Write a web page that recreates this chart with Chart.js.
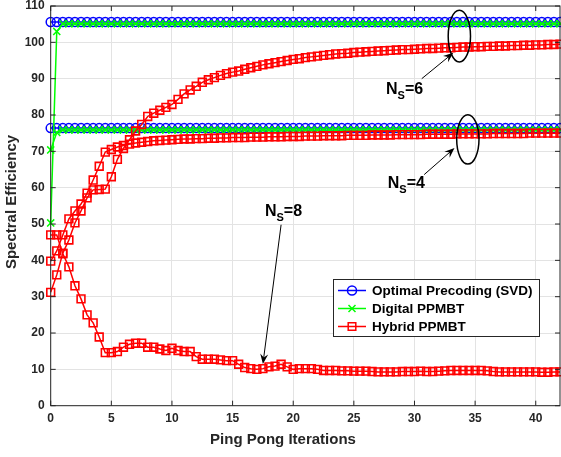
<!DOCTYPE html>
<html>
<head>
<meta charset="utf-8">
<script src="https://cdn.jsdelivr.net/npm/chart.js@4"></script>
<style>
html, body { margin: 0; padding: 0; background: #fff; }
canvas { display: block; }
</style>
</head>
<body>
<canvas id="grafico" width="561" height="457"></canvas>
<script>
// iteraciones (medio paso)
const iteraciones = [
    0, 0.5, 1, 1.5, 2, 2.5, 3, 3.5, 4, 4.5,
    5, 5.5, 6, 6.5, 7, 7.5, 8, 8.5, 9, 9.5,
    10, 10.5, 11, 11.5, 12, 12.5, 13, 13.5, 14, 14.5,
    15, 15.5, 16, 16.5, 17, 17.5, 18, 18.5, 19, 19.5,
    20, 20.5, 21, 21.5, 22, 22.5, 23, 23.5, 24, 24.5,
    25, 25.5, 26, 26.5, 27, 27.5, 28, 28.5, 29, 29.5,
    30, 30.5, 31, 31.5, 32, 32.5, 33, 33.5, 34, 34.5,
    35, 35.5, 36, 36.5, 37, 37.5, 38, 38.5, 39, 39.5,
    40, 40.5, 41, 41.5, 42
];

const ticksX = [0, 5, 10, 15, 20, 25, 30, 35, 40];
const ticksY = [0, 10, 20, 30, 40, 50, 60, 70, 80, 90, 100, 110];

// Optimal Precoding (SVD)
const optimoNs6 = [
    105.6, 105.6, 105.6, 105.6, 105.6, 105.6, 105.6, 105.6, 105.6, 105.6,
    105.6, 105.6, 105.6, 105.6, 105.6, 105.6, 105.6, 105.6, 105.6, 105.6,
    105.6, 105.6, 105.6, 105.6, 105.6, 105.6, 105.6, 105.6, 105.6, 105.6,
    105.6, 105.6, 105.6, 105.6, 105.6, 105.6, 105.6, 105.6, 105.6, 105.6,
    105.6, 105.6, 105.6, 105.6, 105.6, 105.6, 105.6, 105.6, 105.6, 105.6,
    105.6, 105.6, 105.6, 105.6, 105.6, 105.6, 105.6, 105.6, 105.6, 105.6,
    105.6, 105.6, 105.6, 105.6, 105.6, 105.6, 105.6, 105.6, 105.6, 105.6,
    105.6, 105.6, 105.6, 105.6, 105.6, 105.6, 105.6, 105.6, 105.6, 105.6,
    105.6, 105.6, 105.6, 105.6, 105.6
];
const optimoNs4 = [
    76.4, 76.4, 76.4, 76.4, 76.4, 76.4, 76.4, 76.4, 76.4, 76.4,
    76.4, 76.4, 76.4, 76.4, 76.4, 76.4, 76.4, 76.4, 76.4, 76.4,
    76.4, 76.4, 76.4, 76.4, 76.4, 76.4, 76.4, 76.4, 76.4, 76.4,
    76.4, 76.4, 76.4, 76.4, 76.4, 76.4, 76.4, 76.4, 76.4, 76.4,
    76.4, 76.4, 76.4, 76.4, 76.4, 76.4, 76.4, 76.4, 76.4, 76.4,
    76.4, 76.4, 76.4, 76.4, 76.4, 76.4, 76.4, 76.4, 76.4, 76.4,
    76.4, 76.4, 76.4, 76.4, 76.4, 76.4, 76.4, 76.4, 76.4, 76.4,
    76.4, 76.4, 76.4, 76.4, 76.4, 76.4, 76.4, 76.4, 76.4, 76.4,
    76.4, 76.4, 76.4, 76.4, 76.4
];

// Digital PPMBT
const digitalNs6 = [
    50.3, 103.0, 105.1, 105.1, 105.1, 105.1, 105.1, 105.1, 105.1, 105.1,
    105.1, 105.1, 105.1, 105.1, 105.1, 105.1, 105.1, 105.1, 105.1, 105.1,
    105.1, 105.1, 105.1, 105.1, 105.1, 105.1, 105.1, 105.1, 105.1, 105.1,
    105.1, 105.1, 105.1, 105.1, 105.1, 105.1, 105.1, 105.1, 105.1, 105.1,
    105.1, 105.1, 105.1, 105.1, 105.1, 105.1, 105.1, 105.1, 105.1, 105.1,
    105.1, 105.1, 105.1, 105.1, 105.1, 105.1, 105.1, 105.1, 105.1, 105.1,
    105.1, 105.1, 105.1, 105.1, 105.1, 105.1, 105.1, 105.1, 105.1, 105.1,
    105.1, 105.1, 105.1, 105.1, 105.1, 105.1, 105.1, 105.1, 105.1, 105.1,
    105.1, 105.1, 105.1, 105.1, 105.1
];
const digitalNs4 = [
    70.4, 75.2, 75.9, 75.9, 75.9, 75.9, 75.9, 75.9, 75.9, 75.9,
    75.9, 75.9, 75.9, 75.9, 75.9, 75.9, 75.9, 75.9, 75.9, 75.9,
    75.9, 75.9, 75.9, 75.9, 75.9, 75.9, 75.9, 75.9, 75.9, 75.9,
    75.9, 75.9, 75.9, 75.9, 75.9, 75.9, 75.9, 75.9, 75.9, 75.9,
    75.9, 75.9, 75.9, 75.9, 75.9, 75.9, 75.9, 75.9, 75.9, 75.9,
    75.9, 75.9, 75.9, 75.9, 75.9, 75.9, 75.9, 75.9, 75.9, 75.9,
    75.9, 75.9, 75.9, 75.9, 75.9, 75.9, 75.9, 75.9, 75.9, 75.9,
    75.9, 75.9, 75.9, 75.9, 75.9, 75.9, 75.9, 75.9, 75.9, 75.9,
    75.9, 75.9, 75.9, 75.9, 75.9
];

// Hybrid PPMBT
const hibridoNs6 = [
    31.2, 36.0, 42.0, 45.6, 50.3, 53.6, 57.2, 59.4, 59.5, 59.6,
    63.0, 67.8, 70.8, 73.2, 75.6, 77.4, 79.6, 80.5, 81.3, 82.1,
    82.9, 84.3, 85.8, 86.9, 87.9, 89.0, 89.7, 90.3, 90.9, 91.4,
    91.8, 92.1, 92.6, 93.0, 93.4, 93.8, 94.1, 94.4, 94.7, 95.0,
    95.3, 95.5, 95.8, 96.0, 96.2, 96.4, 96.6, 96.8, 96.9, 97.0,
    97.2, 97.3, 97.4, 97.5, 97.6, 97.7, 97.8, 97.9, 98.0, 98.0,
    98.1, 98.2, 98.3, 98.3, 98.4, 98.5, 98.5, 98.6, 98.7, 98.7,
    98.8, 98.8, 98.9, 98.9, 99.0, 99.0, 99.1, 99.1, 99.2, 99.2,
    99.3, 99.3, 99.4, 99.4, 99.5
];
const hibridoNs4 = [
    39.8, 42.6, 47.0, 51.4, 53.6, 55.5, 58.5, 62.1, 65.9, 69.8,
    70.5, 71.2, 71.6, 72.0, 72.3, 72.5, 72.7, 72.9, 73.0, 73.1,
    73.2, 73.3, 73.4, 73.4, 73.5, 73.5, 73.6, 73.6, 73.7, 73.7,
    73.8, 73.8, 73.8, 73.9, 73.9, 73.9, 74.0, 74.0, 74.0, 74.1,
    74.1, 74.1, 74.2, 74.2, 74.2, 74.3, 74.3, 74.3, 74.3, 74.4,
    74.4, 74.4, 74.4, 74.5, 74.5, 74.5, 74.5, 74.6, 74.6, 74.6,
    74.6, 74.6, 74.7, 74.7, 74.7, 74.7, 74.7, 74.8, 74.8, 74.8,
    74.8, 74.8, 74.8, 74.9, 74.9, 74.9, 74.9, 74.9, 74.9, 75.0,
    75.0, 75.0, 75.0, 75.0, 75.0
];
const hibridoNs8 = [
    47.0, 47.0, 41.8, 38.2, 33.0, 29.4, 25.0, 22.8, 18.9, 14.6,
    14.6, 14.9, 16.1, 16.9, 17.2, 17.2, 16.1, 16.1, 15.6, 15.2,
    15.8, 15.2, 14.9, 14.9, 13.5, 12.8, 12.8, 12.8, 12.6, 12.4,
    12.4, 11.4, 10.5, 10.2, 10.0, 10.2, 10.7, 10.9, 11.4, 10.7,
    10.0, 10.2, 10.2, 10.2, 10.0, 9.7, 9.7, 9.7, 9.6, 9.6,
    9.5, 9.5, 9.5, 9.4, 9.3, 9.3, 9.3, 9.3, 9.4, 9.4,
    9.4, 9.5, 9.4, 9.4, 9.5, 9.6, 9.7, 9.7, 9.7, 9.7,
    9.7, 9.7, 9.6, 9.4, 9.3, 9.3, 9.3, 9.3, 9.3, 9.3,
    9.3, 9.2, 9.2, 9.3, 9.3
];

const AZUL = '#0000ff';
const VERDE = '#00ff00';
const ROJO = '#ff0000';
const EJE = '#262626';
const FUENTE = '"Liberation Sans", Arial, sans-serif';

function puntos(serie) {
    return iteraciones.map((x, i) => ({ x: x, y: serie[i] }));
}

function serieOptima(serie) {
    return {
        data: puntos(serie), borderColor: AZUL, borderWidth: 1.5, clip: false,
        pointStyle: 'circle', pointRadius: 4.5, pointBorderWidth: 1.5,
        pointBorderColor: AZUL, pointBackgroundColor: 'rgba(0,0,0,0)', order: 3
    };
}
function serieDigital(serie) {
    return {
        data: puntos(serie), borderColor: VERDE, borderWidth: 1.5, clip: false,
        pointStyle: 'crossRot', pointRadius: 5, pointBorderWidth: 1.5,
        pointBorderColor: VERDE, pointBackgroundColor: 'rgba(0,0,0,0)', order: 2
    };
}
function serieHibrida(serie) {
    return {
        data: puntos(serie), borderColor: ROJO, borderWidth: 1.5, clip: false,
        pointStyle: 'rect', pointRadius: 5.5, pointBorderWidth: 1.6,
        pointBorderColor: ROJO, pointBackgroundColor: 'rgba(0,0,0,0)', order: 1
    };
}

// elipses, flechas y etiquetas N_S (en unidades de datos)
const elipses = [
    { x: 33.7, y: 101.7, rx: 0.92, ry: 7.1 },
    { x: 34.4, y: 73.3, rx: 0.92, ry: 6.8 }
];
const flechas = [
    { x1: 30.6, y1: 90.0, x2: 33.2, y2: 97.1 },
    { x1: 30.8, y1: 63.6, x2: 33.3, y2: 70.9 },
    { x1: 19.0, y1: 49.8, x2: 17.5, y2: 11.5 }
];
const etiquetas = [
    { x: 27.65, y: 85.9, n: '6' },
    { x: 27.8, y: 59.9, n: '4' },
    { x: 17.67, y: 52.2, n: '8' }
];

const leyenda = [
    { texto: 'Optimal Precoding (SVD)', color: AZUL, estilo: 'circle' },
    { texto: 'Digital PPMBT', color: VERDE, estilo: 'cross' },
    { texto: 'Hybrid PPMBT', color: ROJO, estilo: 'rect' }
];

function marcador(ctx, estilo, cx, cy) {
    ctx.beginPath();
    if (estilo === 'circle') {
        ctx.arc(cx, cy, 4.5, 0, Math.PI * 2);
    } else if (estilo === 'cross') {
        ctx.moveTo(cx - 3.5, cy - 3.5); ctx.lineTo(cx + 3.5, cy + 3.5);
        ctx.moveTo(cx + 3.5, cy - 3.5); ctx.lineTo(cx - 3.5, cy + 3.5);
    } else {
        ctx.rect(cx - 3.8, cy - 3.8, 7.6, 7.6);
    }
    ctx.stroke();
}

const anotaciones = {
    id: 'anotaciones',
    afterDraw(chart) {
        const { ctx, chartArea: a, scales: { x, y } } = chart;
        ctx.save();

        // caja y marcas interiores
        ctx.strokeStyle = EJE;
        ctx.lineWidth = 1;
        ctx.strokeRect(a.left, a.top, a.right - a.left, a.bottom - a.top);
        ctx.beginPath();
        ticksX.forEach(v => {
            const px = x.getPixelForValue(v);
            ctx.moveTo(px, a.bottom); ctx.lineTo(px, a.bottom - 5);
            ctx.moveTo(px, a.top); ctx.lineTo(px, a.top + 5);
        });
        ticksY.forEach(v => {
            const py = y.getPixelForValue(v);
            ctx.moveTo(a.left, py); ctx.lineTo(a.left + 5, py);
            ctx.moveTo(a.right, py); ctx.lineTo(a.right - 5, py);
        });
        ctx.stroke();

        // titulos de ejes
        ctx.fillStyle = EJE;
        ctx.font = 'bold 15px ' + FUENTE;
        ctx.textAlign = 'center';
        ctx.textBaseline = 'middle';
        ctx.fillText('Ping Pong Iterations', 283, 440);
        ctx.save();
        ctx.translate(12, 202);
        ctx.rotate(-Math.PI / 2);
        ctx.fillText('Spectral Efficiency', 0, 0);
        ctx.restore();

        // elipses
        ctx.strokeStyle = '#000';
        ctx.lineWidth = 1.5;
        elipses.forEach(e => {
            const cx = x.getPixelForValue(e.x), cy = y.getPixelForValue(e.y);
            const rx = x.getPixelForValue(e.x + e.rx) - cx;
            const ry = cy - y.getPixelForValue(e.y + e.ry);
            ctx.beginPath();
            ctx.ellipse(cx, cy, rx, ry, 0, 0, Math.PI * 2);
            ctx.stroke();
        });

        // flechas
        ctx.lineWidth = 1;
        ctx.fillStyle = '#000';
        flechas.forEach(f => {
            const x1 = x.getPixelForValue(f.x1), y1 = y.getPixelForValue(f.y1);
            const x2 = x.getPixelForValue(f.x2), y2 = y.getPixelForValue(f.y2);
            const ang = Math.atan2(y2 - y1, x2 - x1);
            ctx.beginPath();
            ctx.moveTo(x1, y1);
            ctx.lineTo(x2 - 6 * Math.cos(ang), y2 - 6 * Math.sin(ang));
            ctx.stroke();
            ctx.save();
            ctx.translate(x2, y2);
            ctx.rotate(ang);
            ctx.beginPath();
            ctx.moveTo(0, 0);
            ctx.lineTo(-10, -4);
            ctx.lineTo(-6.5, 0);
            ctx.lineTo(-10, 4);
            ctx.closePath();
            ctx.fill();
            ctx.restore();
        });

        // etiquetas N_S
        ctx.textBaseline = 'alphabetic';
        ctx.textAlign = 'left';
        etiquetas.forEach(t => {
            let px = x.getPixelForValue(t.x);
            const py = y.getPixelForValue(t.y);
            ctx.font = 'bold 16px ' + FUENTE;
            ctx.fillText('N', px, py);
            px += ctx.measureText('N').width;
            ctx.font = 'bold 11px ' + FUENTE;
            ctx.fillText('S', px, py + 5);
            px += ctx.measureText('S').width;
            ctx.font = 'bold 16px ' + FUENTE;
            ctx.fillText('=' + t.n, px, py);
        });

        // leyenda
        const lx = 333, ly = 279, lw = 206, lh = 57;
        ctx.fillStyle = '#fff';
        ctx.fillRect(lx, ly, lw, lh);
        ctx.strokeStyle = EJE;
        ctx.lineWidth = 1;
        ctx.strokeRect(lx + 0.5, ly + 0.5, lw, lh);
        ctx.font = 'bold 13.5px ' + FUENTE;
        ctx.textBaseline = 'middle';
        leyenda.forEach((e, i) => {
            const fy = ly + 11.5 + i * 18;
            ctx.strokeStyle = e.color;
            ctx.lineWidth = 1.5;
            ctx.beginPath();
            ctx.moveTo(lx + 5, fy); ctx.lineTo(lx + 33, fy);
            ctx.stroke();
            marcador(ctx, e.estilo, lx + 19, fy);
            ctx.fillStyle = '#000';
            ctx.fillText(e.texto, lx + 39, fy + 0.5);
        });

        ctx.restore();
    }
};

new Chart(document.getElementById('grafico'), {
    type: 'line',
    data: {
        datasets: [
            serieOptima(optimoNs6),
            serieOptima(optimoNs4),
            serieDigital(digitalNs6),
            serieDigital(digitalNs4),
            serieHibrida(hibridoNs6),
            serieHibrida(hibridoNs4),
            serieHibrida(hibridoNs8)
        ]
    },
    options: {
        responsive: false,
        animation: false,
        layout: { autoPadding: false, padding: { top: 6, right: 1, left: 0, bottom: 0 } },
        plugins: { legend: { display: false }, tooltip: { enabled: false } },
        elements: { line: { tension: 0 } },
        scales: {
            x: {
                type: 'linear', min: 0, max: 42,
                afterFit: s => { s.height = 51.3; s.paddingLeft = 0; s.paddingRight = 0; },
                afterBuildTicks: s => { s.ticks = ticksX.map(v => ({ value: v })); },
                grid: { color: '#e3e3e3', drawTicks: false },
                border: { display: false },
                ticks: { color: EJE, padding: 6, maxRotation: 0, font: { family: FUENTE, size: 12, weight: 'bold' } },
                title: { display: false }
            },
            y: {
                type: 'linear', min: 0, max: 110,
                afterFit: s => { s.width = 50.7; s.paddingTop = 0; s.paddingBottom = 0; },
                afterBuildTicks: s => { s.ticks = ticksY.map(v => ({ value: v })); },
                grid: { color: '#e3e3e3', drawTicks: false },
                border: { display: false },
                ticks: { color: EJE, padding: 6, font: { family: FUENTE, size: 12, weight: 'bold' } },
                title: { display: false }
            }
        }
    },
    plugins: [anotaciones]
});
</script>
</body>
</html>
